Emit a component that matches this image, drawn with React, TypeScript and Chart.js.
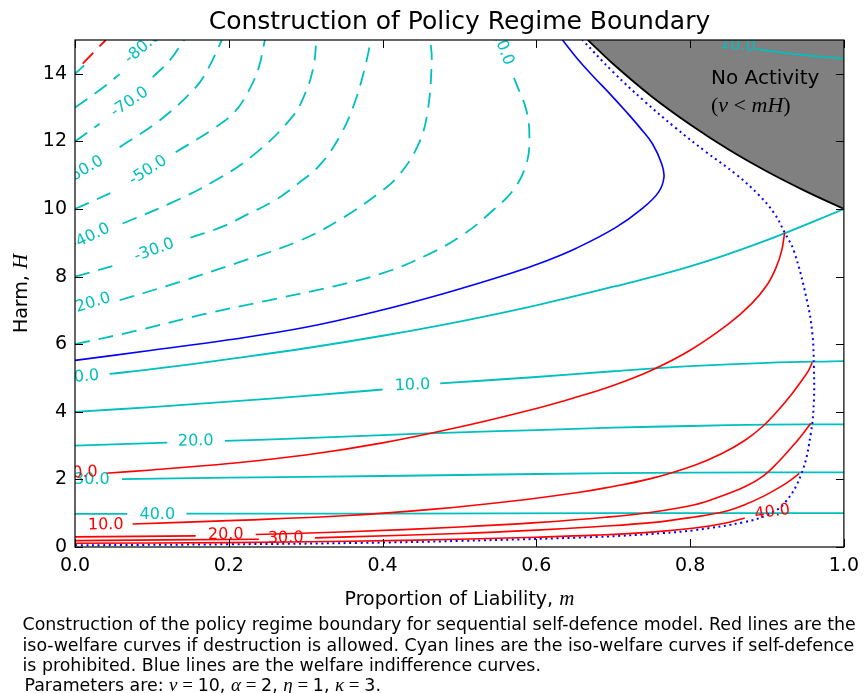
import { useEffect, useRef } from 'react';
import { Chart, registerables } from 'chart.js';
Chart.register(...registerables);

type Pt = [number, number] | null;

// axis ticks
const mTicks = [0, 0.2, 0.4, 0.6, 0.8, 1.0];
const hTicks = [0, 2, 4, 6, 8, 10, 12, 14];

// cyan dashed: iso-welfare (self-defence prohibited), negative levels; null = label gap
const cyanNeg10: Pt[] = [[0, 6.0], [0.08, 6.4], [0.166, 6.88], [0.252, 7.3], [0.338, 7.72], [0.4, 8.1], [0.458, 8.64], [0.506, 9.26], [0.544, 9.97], [0.57, 10.56], [0.587, 11.33], [0.591, 12.12], [0.587, 12.92], [0.574, 13.7], [0.568, 14.05]];
const cyanNeg20: Pt[] = [[0.058, 7.3], [0.123, 7.75], [0.209, 8.39], [0.295, 9.09], [0.35, 9.76], [0.394, 10.45], [0.419, 10.94], [0.445, 11.83], [0.458, 12.8], [0.464, 14.4], [0.462, 15]];
const cyanNeg30: Pt[] = [[0, 8.0], [0.06, 8.38], null, [0.15, 9.15], [0.191, 9.47], [0.226, 9.86], [0.26, 10.26], [0.29, 10.75], [0.32, 11.34], [0.346, 12.22], [0.363, 13.1], [0.376, 14.09], [0.385, 15]];
const cyanNeg40: Pt[] = [[0.062, 9.57], [0.123, 10.16], [0.183, 10.85], [0.234, 11.63], [0.282, 12.71], [0.299, 13.4], [0.31, 14.19], [0.314, 15]];
const cyanNeg50: Pt[] = [[0, 10.0], [0.054, 10.55], null, [0.131, 11.68], [0.183, 12.42], [0.209, 12.91], [0.226, 13.5], [0.239, 14.19], [0.247, 15]];
const cyanNeg60: Pt[] = [[0.058, 11.83], [0.11, 12.62], [0.157, 13.6], [0.174, 14.19], [0.191, 15]];
const cyanNeg70: Pt[] = [[0, 12.0], [0.032, 12.52], null, [0.101, 13.9], [0.123, 14.39], [0.142, 15]];
const cyanNeg80: Pt[] = [[0, 13.0], [0.037, 13.6], [0.058, 13.99]];
const cyanNeg90: Pt[] = [[0, 14.0], [0.012, 14.25]];

// cyan solid: iso-welfare (self-defence prohibited), non-negative levels
const cyanPos0: Pt[] = [[0.045, 5.12], [0.1, 5.26], [0.2, 5.56], [0.3, 5.88], [0.4, 6.25], [0.5, 6.67], [0.6, 7.15], [0.7, 7.7], [0.8, 8.3], [0.9, 9.08], [1, 10]];
const cyanPos10: Pt[] = [[0, 4.0], [0.1, 4.14], [0.2, 4.3], [0.3, 4.47], [0.4, 4.66], null, [0.475, 4.84], [0.6, 5.03], [0.7, 5.2], [0.8, 5.35], [0.9, 5.45], [1, 5.5]];
const cyanPos20: Pt[] = [[0, 3.0], [0.12, 3.09], null, [0.195, 3.14], [0.3, 3.22], [0.4, 3.31], [0.5, 3.39], [0.6, 3.46], [0.7, 3.53], [0.8, 3.58], [0.9, 3.62], [1, 3.63]];
const cyanPos30: Pt[] = [[0.061, 2.01], [0.2, 2.05], [0.4, 2.1], [0.6, 2.16], [0.8, 2.2], [1, 2.21]];
const cyanPos40: Pt[] = [[0, 0.98], [0.068, 0.98], null, [0.145, 0.99], [0.4, 0.99], [0.7, 1.0], [1, 1.0]];
const cyanTopRight: Pt[] = [[0.885, 14.73], [0.93, 14.6], [1, 14.45]];

// red: iso-welfare (destruction allowed)
const redNeg: Pt[] = [[0.01, 14.3], [0.04, 15]];
const red0: Pt[] = [[0.04, 2.18], [0.1, 2.28], [0.2, 2.47], [0.3, 2.72], [0.4, 3.08], [0.5, 3.55], [0.6, 4.1], [0.65, 4.42], [0.7, 4.78], [0.75, 5.23], [0.8, 5.82], [0.85, 6.6], [0.88, 7.2], [0.9, 7.75], [0.912, 8.28], [0.919, 8.76], [0.923, 9.3]];
const red10: Pt[] = [[0.075, 0.68], [0.2, 0.78], [0.355, 0.93], [0.467, 1.12], [0.57, 1.36], [0.65, 1.6], [0.69, 1.75], [0.75, 2.03], [0.806, 2.42], [0.84, 2.75], [0.871, 3.15], [0.895, 3.58], [0.914, 4.03], [0.932, 4.52], [0.945, 4.92], [0.953, 5.18], [0.959, 5.46]];
const red20: Pt[] = [[0, 0.3], [0.157, 0.33], null, [0.235, 0.37], [0.355, 0.45], [0.5, 0.59], [0.6, 0.72], [0.69, 0.88], [0.75, 1.03], [0.806, 1.25], [0.84, 1.5], [0.871, 1.78], [0.895, 2.1], [0.914, 2.5], [0.932, 2.95], [0.945, 3.3], [0.957, 3.66]];
const red30: Pt[] = [[0, 0.19], [0.239, 0.23], null, [0.312, 0.27], [0.355, 0.3], [0.5, 0.4], [0.6, 0.5], [0.677, 0.6], [0.75, 0.72], [0.806, 0.89], [0.845, 1.05], [0.871, 1.25], [0.897, 1.52], [0.919, 1.8], [0.932, 2.0], [0.942, 2.18]];
const red40: Pt[] = [[0, 0.11], [0.2, 0.13], [0.355, 0.17], [0.5, 0.23], [0.6, 0.29], [0.677, 0.35], [0.75, 0.44], [0.806, 0.56], [0.845, 0.7], [0.871, 0.86]];

// blue: welfare indifference curves
const blueSolid: Pt[] = [[0, 5.52], [0.1, 5.82], [0.2, 6.13], [0.3, 6.5], [0.394, 6.98], [0.48, 7.5], [0.566, 8.09], [0.61, 8.44], [0.652, 8.84], [0.703, 9.45], [0.738, 10.02], [0.759, 10.5], [0.766, 10.94], [0.763, 11.34], [0.751, 11.93], [0.735, 12.4], [0.716, 12.9], [0.696, 13.4], [0.675, 13.9], [0.655, 14.4], [0.634, 15]];
const blueDotted: Pt[] = [[0, 0.05], [0.2, 0.08], [0.368, 0.12], [0.5, 0.18], [0.68, 0.3], [0.764, 0.41], [0.806, 0.5], [0.871, 0.74], [0.9, 0.95], [0.923, 1.3], [0.945, 2.18], [0.957, 3.36], [0.961, 4.34], [0.961, 5.31], [0.959, 6.31], [0.952, 7.29], [0.935, 8.76], [0.923, 9.3], [0.91, 9.85], [0.89, 10.4], [0.86, 11.02], [0.82, 11.7], [0.78, 12.42], [0.74, 13.2], [0.7, 14.05], [0.66, 15]];

// no-activity boundary
const boundary: Pt[] = [[0.667, 15], [0.7, 14.29], [0.75, 13.33], [0.8, 12.5], [0.85, 11.76], [0.9, 11.11], [0.95, 10.53], [1, 10]];

// inline contour labels: text, m, H, rotation (deg)
const cyanLabels: [string, number, number, number][] = [
  ['-80.0', 0.088, 14.78, -40], ['-70.0', 0.071, 13.16, -34], ['-60.0', 0.012, 11.15, -30],
  ['-50.0', 0.095, 11.14, -33], ['-40.0', 0.02, 9.18, -26], ['-30.0', 0.103, 8.78, -20],
  ['-20.0', 0.02, 7.2, -17], ['-10.0', 0.555, 14.85, 69], ['0.0', 0.015, 5.04, -4],
  ['10.0', 0.439, 4.78, -2], ['20.0', 0.157, 3.13, -1], ['30.0', 0.022, 1.98, 0],
  ['40.0', 0.107, 0.96, 0], ['10.0', 0.862, 14.84, 6],
];
const redLabels: [string, number, number, number][] = [
  ['0.0', 0.013, 2.2, -3], ['10.0', 0.04, 0.65, -1], ['20.0', 0.196, 0.36, -1],
  ['30.0', 0.274, 0.26, -1], ['40.0', 0.907, 1.03, -8],
];

const CYAN = '#00bfbf';
const RED = '#ff0000';
const BLUE = '#0000ff';
const DASH = [15, 9];

const SANS = '"DejaVu Sans"';
const SERIF = '"Liberation Serif"';

function toXY(pts: Pt[]) {
  const out: { x: number; y: number | null }[] = [];
  let lastX = 0;
  for (const p of pts) {
    if (p === null) out.push({ x: lastX, y: null });
    else { out.push({ x: p[0], y: p[1] }); lastX = p[0]; }
  }
  return out;
}

function line(pts: Pt[], color: string, dash: number[] = [], width = 1.6, tension = 0.4): any {
  return {
    type: 'line', data: toXY(pts), borderColor: color, borderWidth: width, borderDash: dash,
    pointRadius: 0, fill: false, tension, spanGaps: false, borderCapStyle: 'butt',
  };
}

function rich(ctx: CanvasRenderingContext2D, parts: [string, string][], x: number, y: number, align: 'left' | 'center') {
  let total = 0;
  for (const [t, f] of parts) { ctx.font = f; total += ctx.measureText(t).width; }
  let cx = align === 'center' ? x - total / 2 : x;
  ctx.textAlign = 'left';
  for (const [t, f] of parts) { ctx.font = f; ctx.fillText(t, cx, y); cx += ctx.measureText(t).width; }
}

const overlay = {
  id: 'overlay',
  afterDatasetsDraw(chart: any) {
    const { ctx, chartArea: a, scales } = chart;
    const xs = scales.x, ys = scales.y;
    ctx.save();
    ctx.beginPath();
    ctx.rect(a.left, a.top, a.right - a.left, a.bottom - a.top);
    ctx.clip();
    ctx.font = `16px ${SANS}`;
    ctx.textAlign = 'center';
    ctx.textBaseline = 'middle';
    const drawL = (list: [string, number, number, number][], color: string) => {
      ctx.fillStyle = color;
      for (const [t, m, h, r] of list) {
        ctx.save();
        ctx.translate(xs.getPixelForValue(m), ys.getPixelForValue(h));
        ctx.rotate((r * Math.PI) / 180);
        ctx.fillText(t, 0, 0);
        ctx.restore();
      }
    };
    drawL(cyanLabels, CYAN);
    drawL(redLabels, RED);
    // No Activity annotation
    ctx.fillStyle = '#000';
    ctx.textBaseline = 'alphabetic';
    ctx.textAlign = 'left';
    ctx.font = `20px ${SANS}`;
    ctx.fillText('No Activity', 711, 84);
    rich(ctx, [['(', `22px ${SERIF}`], ['v', `italic 22px ${SERIF}`], [' < ', `22px ${SERIF}`], ['mH', `italic 22px ${SERIF}`], [')', `22px ${SERIF}`]], 711, 112, 'left');
    ctx.restore();

    // frame and inward ticks
    ctx.save();
    ctx.strokeStyle = '#000';
    ctx.lineWidth = 1.2;
    ctx.strokeRect(a.left, a.top, a.right - a.left, a.bottom - a.top);
    ctx.lineWidth = 1;
    ctx.beginPath();
    for (const v of mTicks) {
      const px = Math.round(xs.getPixelForValue(v)) + 0.5;
      ctx.moveTo(px, a.bottom); ctx.lineTo(px, a.bottom - 8);
      ctx.moveTo(px, a.top); ctx.lineTo(px, a.top + 8);
    }
    for (const v of hTicks) {
      const py = Math.round(ys.getPixelForValue(v)) + 0.5;
      ctx.moveTo(a.left, py); ctx.lineTo(a.left + 8, py);
      ctx.moveTo(a.right, py); ctx.lineTo(a.right - 8, py);
    }
    ctx.stroke();
    ctx.restore();
  },
  afterDraw(chart: any) {
    const { ctx, chartArea: a } = chart;
    const cx = (a.left + a.right) / 2;
    ctx.save();
    ctx.fillStyle = '#000';
    ctx.textBaseline = 'alphabetic';
    ctx.font = `25px ${SANS}`;
    ctx.textAlign = 'center';
    ctx.fillText('Construction of Policy Regime Boundary', cx, 29);
    rich(ctx, [['Proportion of Liability, ', `19px ${SANS}`], ['m', `italic 21px ${SERIF}`]], cx, 605, 'center');
    ctx.save();
    ctx.translate(27, (a.top + a.bottom) / 2);
    ctx.rotate(-Math.PI / 2);
    rich(ctx, [['Harm, ', `19px ${SANS}`], ['H', `italic 21px ${SERIF}`]], 0, 0, 'center');
    ctx.restore();
    const cap = `17.4px ${SANS}`;
    ctx.textAlign = 'left';
    ctx.font = cap;
    ctx.fillText('Construction of the policy regime boundary for sequential self-defence model. Red lines are the', 22.5, 630);
    ctx.fillText('iso-welfare curves if destruction is allowed. Cyan lines are the iso-welfare curves if self-defence', 22.5, 650.5);
    ctx.fillText('is prohibited. Blue lines are the welfare indifference curves.', 22.5, 670.5);
    const it = `italic 19px ${SERIF}`;
    const up = `19px ${SERIF}`;
    rich(ctx, [
      ['Parameters are: ', cap], ['v', it], [' = ', up], ['10', cap], [', ', cap],
      ['\u03b1', it], [' = ', up], ['2', cap], [', ', cap],
      ['\u03b7', it], [' = ', up], ['1', cap], [', ', cap],
      ['\u03ba', it], [' = ', up], ['3', cap], ['.', cap],
    ], 24.5, 690.5, 'left');
    ctx.restore();
  },
};

export default function App() {
  const ref = useRef<HTMLCanvasElement | null>(null);
  useEffect(() => {
    document.body.style.margin = '0';
    const canvas = ref.current;
    if (!canvas) return;
    const datasets: any[] = [
      line(cyanNeg10, CYAN, DASH, 1.8),
      line(cyanNeg20, CYAN, DASH, 1.8),
      line(cyanNeg30, CYAN, DASH, 1.8),
      line(cyanNeg40, CYAN, DASH, 1.8),
      line(cyanNeg50, CYAN, DASH, 1.8),
      line(cyanNeg60, CYAN, DASH, 1.8),
      line(cyanNeg70, CYAN, DASH, 1.8),
      line(cyanNeg80, CYAN, DASH, 1.8),
      line(cyanNeg90, CYAN, DASH, 1.8),
      line(redNeg, RED, DASH, 1.8),
      line(red0, RED),
      line(red10, RED),
      line(red20, RED),
      line(red30, RED),
      line(red40, RED),
      line(blueSolid, BLUE),
      line(blueDotted, BLUE, [2, 3.6], 2),
      line(cyanPos0, CYAN, [], 1.8),
      line(cyanPos10, CYAN, [], 1.8),
      line(cyanPos20, CYAN, [], 1.8),
      line(cyanPos30, CYAN, [], 1.8),
      line(cyanPos40, CYAN, [], 1.8),
      line(cyanTopRight, CYAN, [], 1.8),
      { ...line(boundary, '#000', [], 1.8, 0.3), fill: 'end', backgroundColor: '#808080' },
    ];
    const chart = new Chart(canvas, {
      type: 'line',
      data: { datasets },
      plugins: [overlay],
      options: {
        animation: false,
        responsive: false,
        devicePixelRatio: 1,
        layout: { padding: { left: 0, right: 17, top: 40, bottom: 0 } },
        plugins: { legend: { display: false }, tooltip: { enabled: false }, title: { display: false } },
        scales: {
          x: {
            type: 'linear', min: 0, max: 1,
            grid: { display: false, drawTicks: false },
            border: { display: false },
            afterBuildTicks: (s: any) => { s.ticks = mTicks.map((v) => ({ value: v })); },
            afterFit: (s: any) => { s.height = 146; },
            ticks: {
              color: '#000', padding: 8, maxRotation: 0, autoSkip: false,
              font: { family: 'DejaVu Sans', size: 19 },
              callback: (v: any) => Number(v).toFixed(1),
            },
          },
          y: {
            type: 'linear', min: 0, max: 15,
            grid: { display: false, drawTicks: false },
            border: { display: false },
            afterBuildTicks: (s: any) => { s.ticks = hTicks.map((v) => ({ value: v })); },
            afterFit: (s: any) => { s.width = 75; },
            ticks: {
              color: '#000', padding: 8, autoSkip: false,
              font: { family: 'DejaVu Sans', size: 19 },
              callback: (v: any) => String(v),
            },
          },
        },
      } as any,
    });
    return () => chart.destroy();
  }, []);
  return <canvas ref={ref} width={867} height={693} style={{ display: 'block', width: 867, height: 693 }} />;
}
